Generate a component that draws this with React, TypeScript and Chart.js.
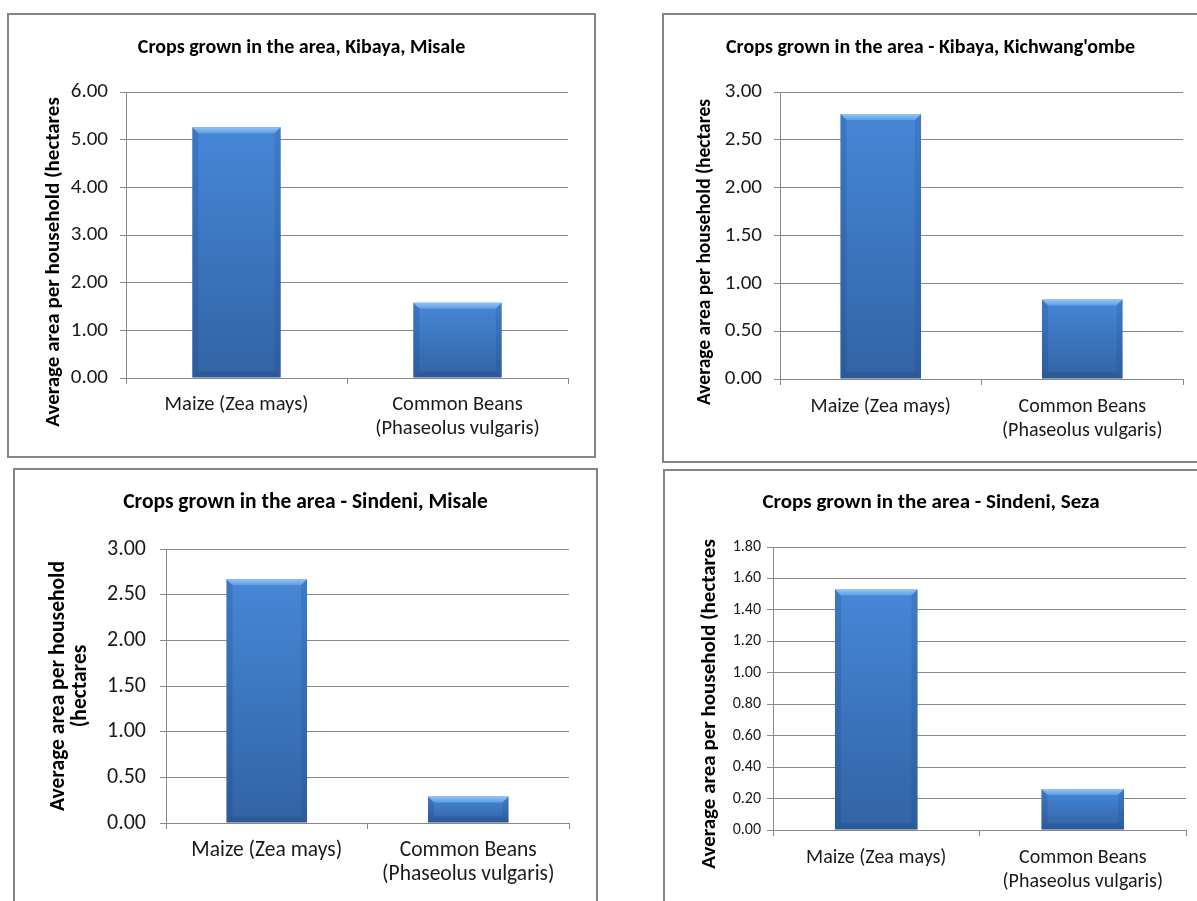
import React, { useEffect, useRef } from "react";
import { Chart, registerables } from "chart.js";

Chart.register(...registerables);

// ---------- data ----------
const categories: string[][] = [["Maize (Zea mays)"], ["Common Beans", "(Phaseolus vulgaris)"]];

const titleKibayaMisale = "Crops grown in the area, Kibaya, Misale";
const titleKibayaKichwangombe = "Crops grown in the area - Kibaya, Kichwang'ombe";
const titleSindeniMisale = "Crops grown in the area - Sindeni, Misale";
const titleSindeniSeza = "Crops grown in the area - Sindeni, Seza";

const kibayaMisale = [5.26, 1.58];
const kibayaKichwangombe = [2.77, 0.83];
const sindeniMisale = [2.67, 0.29];
const sindeniSeza = [1.53, 0.26];

const yMaxKibayaMisale = 6;
const yStepKibayaMisale = 1;
const yMaxKibayaKichwangombe = 3;
const yStepKibayaKichwangombe = 0.5;
const yMaxSindeniMisale = 3;
const yStepSindeniMisale = 0.5;
const yMaxSindeniSeza = 1.8;
const yStepSindeniSeza = 0.2;

const yTitleSingle = ["Average area per household (hectares"];
const yTitleSplit = ["Average area per household", "(hectares"];

// ---------- styling ----------
const FONT = "Carlito, Lato, 'Open Sans', sans-serif";
const GRID = "#888888";
const TXT = "#1a1a1a";

type Spec = {
  box: { left: number; top: number; width: number; height: number; noRight?: boolean; noBottom?: boolean };
  plotLeft: number;
  plotTop: number;
  plotRight: number;
  plotBottom: number;
  titleY: number;
  titleSize: number;
  labelSize: number;
  tickSize: number;
  tickPad: number;
  labelPad: number;
  yTitleX: number;
  yTitleY: number;
  yTitleSize: number;
  yTitleLH: number;
};

const bevelPlugin = {
  id: "bevel",
  afterDatasetsDraw(chart: any) {
    const ctx: CanvasRenderingContext2D = chart.ctx;
    const meta = chart.getDatasetMeta(0);
    meta.data.forEach((el: any) => {
      const p = el.getProps(["x", "y", "base", "width"], true);
      const l = p.x - p.width / 2;
      const r = p.x + p.width / 2;
      const t = p.y;
      const b = p.base;
      const d = Math.min(6, (b - t) / 2);
      ctx.save();
      ctx.beginPath();
      ctx.moveTo(l, t);
      ctx.lineTo(r, t);
      ctx.lineTo(r - d, t + d);
      ctx.lineTo(l + d, t + d);
      ctx.closePath();
      const g = ctx.createLinearGradient(0, t, 0, t + d);
      g.addColorStop(0, "#93c4f4");
      g.addColorStop(1, "#5e9ce2");
      ctx.fillStyle = g;
      ctx.fill();
      ctx.beginPath();
      ctx.moveTo(l, t);
      ctx.lineTo(l + d, t + d);
      ctx.lineTo(l + d, b - d);
      ctx.lineTo(l, b);
      ctx.closePath();
      ctx.fillStyle = "rgba(25,60,115,0.2)";
      ctx.fill();
      ctx.beginPath();
      ctx.moveTo(r, t);
      ctx.lineTo(r - d, t + d);
      ctx.lineTo(r - d, b - d);
      ctx.lineTo(r, b);
      ctx.closePath();
      ctx.fillStyle = "rgba(25,60,115,0.16)";
      ctx.fill();
      ctx.beginPath();
      ctx.moveTo(l, b);
      ctx.lineTo(l + d, b - d);
      ctx.lineTo(r - d, b - d);
      ctx.lineTo(r, b);
      ctx.closePath();
      ctx.fillStyle = "rgba(15,40,85,0.18)";
      ctx.fill();
      ctx.restore();
    });
  },
};

// draws the rotated value-axis title at a chosen centre
const yTitlePlugin = {
  id: "ytitle",
  afterDraw(chart: any, _args: any, opts: any) {
    if (!opts || !opts.lines) return;
    const ctx: CanvasRenderingContext2D = chart.ctx;
    ctx.save();
    ctx.translate(opts.x, opts.y);
    ctx.rotate(-Math.PI / 2);
    ctx.font = `bold ${opts.size}px ${FONT}`;
    ctx.fillStyle = "#000";
    ctx.textAlign = "center";
    ctx.textBaseline = "middle";
    (opts.lines as string[]).forEach((line, i) => {
      ctx.fillText(line, 0, i * opts.lineHeight);
    });
    ctx.restore();
  },
};

function Panel(props: {
  spec: Spec;
  title: string;
  values: number[];
  yMax: number;
  yStep: number;
  yTitle: string[];
}) {
  const { spec, title, values, yMax, yStep, yTitle } = props;
  const ref = useRef<HTMLCanvasElement | null>(null);
  const bw = 2;
  const innerW = spec.box.width - bw - (spec.box.noRight ? 0 : bw);
  const innerH = spec.box.height - bw - (spec.box.noBottom ? 0 : bw);

  useEffect(() => {
    if (!ref.current) return;
    const TL = spec.titleSize * 1.2;
    const tTop = spec.titleY - TL / 2;
    const tBottom = spec.plotTop - tTop - TL;

    const chart = new Chart(ref.current, {
      type: "bar",
      data: {
        labels: categories as any,
        datasets: [
          {
            data: values,
            borderWidth: 0,
            categoryPercentage: 0.4,
            barPercentage: 1,
            backgroundColor: (c: any) => {
              const ch = c.chart;
              const ys = ch.scales && ch.scales.y;
              if (!ys || typeof c.raw !== "number") return "#3d78c6";
              const top = ys.getPixelForValue(c.raw);
              const bot = ys.getPixelForValue(0);
              if (!isFinite(top) || !isFinite(bot) || top === bot) return "#3d78c6";
              const g = ch.ctx.createLinearGradient(0, top, 0, bot);
              g.addColorStop(0, "#4687d7");
              g.addColorStop(1, "#3263a5");
              return g;
            },
          },
        ],
      },
      options: {
        responsive: false,
        maintainAspectRatio: false,
        animation: false,
        layout: { padding: 0 },
        plugins: {
          legend: { display: false },
          tooltip: { enabled: false },
          title: {
            display: true,
            text: title,
            color: "#000",
            font: { family: FONT, size: spec.titleSize, weight: "bold", lineHeight: 1.2 },
            padding: { top: tTop, bottom: tBottom },
          },
          ytitle: {
            lines: yTitle,
            x: spec.yTitleX,
            y: spec.yTitleY,
            size: spec.yTitleSize,
            lineHeight: spec.yTitleLH,
          },
        },
        scales: {
          x: {
            grid: {
              display: true,
              drawOnChartArea: false,
              drawTicks: true,
              tickLength: 6,
              color: GRID,
              offset: true,
            },
            border: { display: true, color: GRID },
            ticks: {
              color: TXT,
              font: { family: FONT, size: spec.labelSize, lineHeight: 24 / spec.labelSize },
              padding: spec.labelPad,
              maxRotation: 0,
              autoSkip: false,
            },
            afterFit: (s: any) => {
              s.height = innerH - spec.plotBottom;
            },
          },
          y: {
            min: 0,
            max: yMax,
            ticks: {
              stepSize: yStep,
              callback: (v: any) => Number(v).toFixed(2),
              color: TXT,
              font: { family: FONT, size: spec.tickSize },
              padding: spec.tickPad,
            },
            grid: { color: GRID, tickLength: 6, drawTicks: true },
            border: { display: true, color: GRID },
            afterFit: (s: any) => {
              s.width = spec.plotLeft;
            },
          },
          spacer: {
            type: "linear",
            position: "right",
            display: true,
            grid: { display: false, drawTicks: false },
            border: { display: false },
            ticks: { display: false },
            afterFit: (s: any) => {
              s.width = innerW - spec.plotRight;
            },
          },
        },
      } as any,
      plugins: [bevelPlugin, yTitlePlugin],
    });
    return () => chart.destroy();
  }, []);

  const b = spec.box;
  return (
    <div
      style={{
        position: "absolute",
        left: b.left,
        top: b.top,
        width: b.width,
        height: b.height,
        boxSizing: "border-box",
        borderStyle: "solid",
        borderColor: "#858585",
        borderWidth: `${bw}px ${b.noRight ? 0 : bw}px ${b.noBottom ? 0 : bw}px ${bw}px`,
        background: "#fff",
        overflow: "hidden",
      }}
    >
      <canvas ref={ref} width={innerW} height={innerH} style={{ display: "block", width: innerW, height: innerH }} />
    </div>
  );
}

const spec1: Spec = {
  box: { left: 7, top: 13, width: 589, height: 445 },
  plotLeft: 117,
  plotTop: 77,
  plotRight: 559,
  plotBottom: 363,
  titleY: 33,
  titleSize: 20,
  labelSize: 20.5,
  tickSize: 21,
  tickPad: 12,
  labelPad: 9,
  yTitleX: 45,
  yTitleY: 247,
  yTitleSize: 21,
  yTitleLH: 22,
};
const spec2: Spec = {
  box: { left: 662, top: 13, width: 535, height: 450, noRight: true },
  plotLeft: 116,
  plotTop: 77,
  plotRight: 519,
  plotBottom: 364,
  titleY: 33,
  titleSize: 20,
  labelSize: 20,
  tickSize: 21,
  tickPad: 12,
  labelPad: 10,
  yTitleX: 41,
  yTitleY: 237,
  yTitleSize: 19.5,
  yTitleLH: 22,
};
const spec3: Spec = {
  box: { left: 13, top: 468, width: 585, height: 433, noBottom: true },
  plotLeft: 151,
  plotTop: 79,
  plotRight: 554,
  plotBottom: 353,
  titleY: 33,
  titleSize: 21.5,
  labelSize: 21.5,
  tickSize: 22,
  tickPad: 14,
  labelPad: 10,
  yTitleX: 44,
  yTitleY: 216,
  yTitleSize: 21.5,
  yTitleLH: 22,
};
const spec4: Spec = {
  box: { left: 663, top: 469, width: 534, height: 432, noRight: true, noBottom: true },
  plotLeft: 108,
  plotTop: 76,
  plotRight: 521,
  plotBottom: 359,
  titleY: 32,
  titleSize: 21,
  labelSize: 20,
  tickSize: 16,
  tickPad: 6,
  labelPad: 10,
  yTitleX: 45,
  yTitleY: 233,
  yTitleSize: 21,
  yTitleLH: 22,
};

export default function App() {
  return (
    <div>
      <Panel spec={spec1} title={titleKibayaMisale} values={kibayaMisale} yMax={yMaxKibayaMisale} yStep={yStepKibayaMisale} yTitle={yTitleSingle} />
      <Panel spec={spec2} title={titleKibayaKichwangombe} values={kibayaKichwangombe} yMax={yMaxKibayaKichwangombe} yStep={yStepKibayaKichwangombe} yTitle={yTitleSingle} />
      <Panel spec={spec3} title={titleSindeniMisale} values={sindeniMisale} yMax={yMaxSindeniMisale} yStep={yStepSindeniMisale} yTitle={yTitleSplit} />
      <Panel spec={spec4} title={titleSindeniSeza} values={sindeniSeza} yMax={yMaxSindeniSeza} yStep={yStepSindeniSeza} yTitle={yTitleSingle} />
    </div>
  );
}
